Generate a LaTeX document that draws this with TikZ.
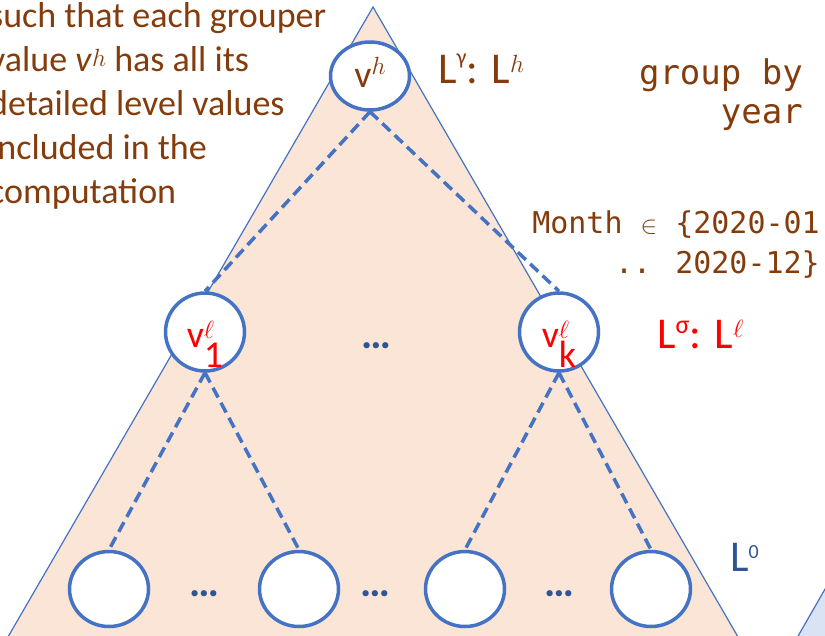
\documentclass[tikz,border=0pt]{standalone}
\usepackage{fontspec}
\setmainfont{Carlito}
\newfontfamily\codefont{DejaVu Sans Mono}
\usepackage{xcolor}
\usepackage{tikz}
\usetikzlibrary{shapes.geometric}

\definecolor{brownTxt}{HTML}{843C0C}
\definecolor{lineBlue}{HTML}{4472C4}
\definecolor{triFill}{HTML}{FBE5D6}
\definecolor{darkBlue}{HTML}{2F5597}
\definecolor{paleBlue}{HTML}{DAE3F3}

\begin{document}
\begin{tikzpicture}[x=1pt,y=-1pt,
  valnode/.style={ellipse, draw=lineBlue, line width=3.5pt, fill=white, minimum width=79pt, inner sep=0pt, font=\fontsize{38}{38}\selectfont},
  link/.style={draw=lineBlue, line width=3.5pt, dash pattern=on 11pt off 6pt},
  dots/.style={text=darkBlue, inner sep=0pt, font=\fontsize{42}{42}\selectfont\bfseries},
  lvl/.style={anchor=base west, inner sep=0pt, font=\fontsize{44}{44}\selectfont}]

\useasboundingbox (0,0) rectangle (825,635);
\clip (0,0) rectangle (825,635);

\filldraw[fill=triFill, draw=lineBlue, line width=1.2pt] (373,7) -- (-10,668) -- (756,668) -- cycle;
\filldraw[fill=paleBlue, draw=lineBlue, line width=1.2pt] (840,563) -- (790,650) -- (900,650) -- cycle;

% values of the grouper level
\node[valnode, minimum height=68pt, text=brownTxt, text height=22pt, text depth=0pt] (vh) at (370,76)
  {v\raisebox{13pt}{\fontsize{32}{32}\selectfont$h$}};
\node[valnode, minimum height=78pt, text=red, text height=30pt, text depth=0pt] (vone) at (205,332)
  {v\rlap{\raisebox{9pt}{\fontsize{24}{24}\selectfont$\ell$}}\raisebox{-20pt}{1}};
\node[valnode, minimum height=78pt, text=red, text height=30pt, text depth=0pt] (vk) at (559,332)
  {v\rlap{\raisebox{9pt}{\fontsize{24}{24}\selectfont$\ell$}}\raisebox{-20pt}{k}};

% detailed values
\node[valnode, minimum height=75pt] (leafa) at (109,589) {};
\node[valnode, minimum height=75pt] (leafb) at (299,589) {};
\node[valnode, minimum height=75pt] (leafc) at (465,589) {};
\node[valnode, minimum height=75pt] (leafd) at (651,589) {};

\draw[link] (vh.south) -- (vone.north);
\draw[link] (vh.south) -- (vk.north);
\draw[link] (vone.south) -- (leafa.north);
\draw[link] (vone.south) -- (leafb.north);
\draw[link] (vk.south) -- (leafc.north);
\draw[link] (vk.south) -- (leafd.north);

\node[dots] (dmid) at (376,346) {…};
\node[dots] (dleafa) at (204,594) {…};
\node[dots] (dleafb) at (375,594) {…};
\node[dots] (dleafc) at (559,594) {…};

% level names
\node[lvl, text=brownTxt] (lhigh) at (438,83)
  {L\raisebox{19pt}{\fontsize{22}{22}\selectfont γ}: L\raisebox{11pt}{\fontsize{28}{28}\selectfont$h$}};
\node[lvl, text=red] (llow) at (657,348)
  {L\raisebox{15pt}{\fontsize{26}{26}\selectfont σ}: L\raisebox{11pt}{\fontsize{28}{28}\selectfont$\ell$}};
\node[lvl, text=darkBlue] (lzero) at (730,571)
  {L\raisebox{13pt}{\fontsize{20}{20}\selectfont 0}};

% texts
\node[anchor=base west, align=left, inner sep=0pt, text=brownTxt, font=\fontsize{36}{44}\selectfont] (note) at (-11,203)
  {such that each grouper\\value \textit{v}\raisebox{5pt}{\fontsize{24}{24}\selectfont$h$} has all its\\detailed level values\\included in the\\computation};
\node[anchor=base east, align=right, inner sep=0pt, text=brownTxt, font=\codefont\fontsize{34}{39}\selectfont] (grp) at (803,123)
  {group by\\year};
\node[anchor=base east, align=right, inner sep=0pt, text=brownTxt, font=\codefont\fontsize{30}{40}\selectfont] (month) at (820,273)
  {Month $\in$ \{2020-01\\.. 2020-12\}};

\end{tikzpicture}
\end{document}
